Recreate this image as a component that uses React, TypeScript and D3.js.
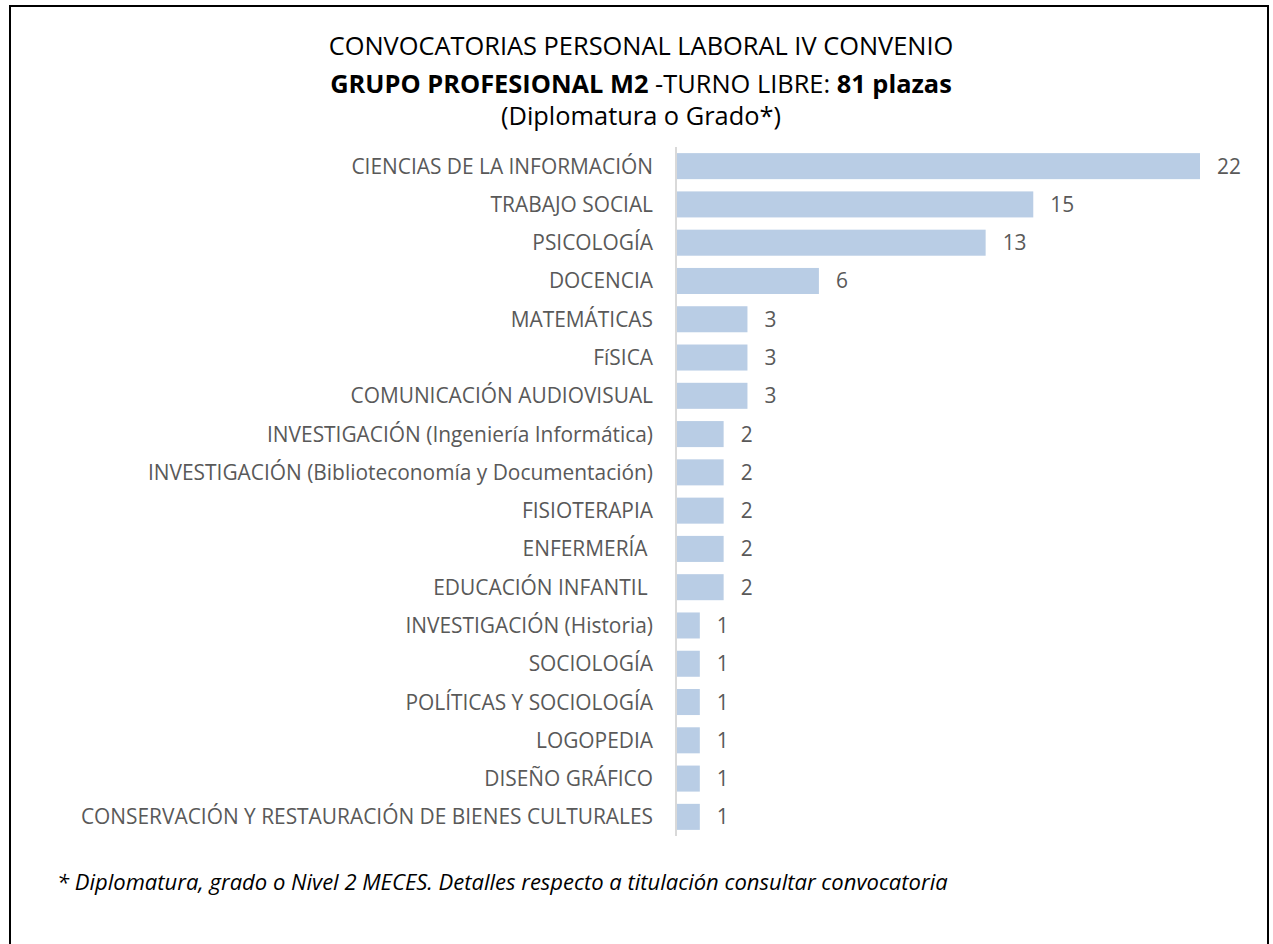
import React from "react";
import * as d3 from "d3";

const categories = [
  "CIENCIAS DE LA INFORMACIÓN",
  "TRABAJO SOCIAL",
  "PSICOLOGÍA",
  "DOCENCIA",
  "MATEMÁTICAS",
  "FíSICA",
  "COMUNICACIÓN AUDIOVISUAL",
  "INVESTIGACIÓN (Ingeniería Informática)",
  "INVESTIGACIÓN (Biblioteconomía y Documentación)",
  "FISIOTERAPIA",
  "ENFERMERÍA ",
  "EDUCACIÓN INFANTIL ",
  "INVESTIGACIÓN (Historia)",
  "SOCIOLOGÍA",
  "POLÍTICAS Y SOCIOLOGÍA",
  "LOGOPEDIA",
  "DISEÑO GRÁFICO",
  "CONSERVACIÓN Y RESTAURACIÓN DE BIENES CULTURALES",
];
const values = [22, 15, 13, 6, 3, 3, 3, 2, 2, 2, 2, 2, 1, 1, 1, 1, 1, 1];

const FONT = "'Open Sans', sans-serif";

export default function App() {
  const W = 1273;
  const H = 944;
  const x0 = 676;
  const x = d3.scaleLinear().domain([0, 22]).range([x0, 1200]);
  const y = d3
    .scaleBand<string>()
    .domain(categories)
    .range([147, 836])
    .paddingInner(0.32)
    .paddingOuter(0.16);
  const bw = y.bandwidth();

  return (
    <svg
      width={W}
      height={H}
      style={{ position: "absolute", left: 0, top: 0, background: "#fff" }}
    >
      <rect x={0} y={0} width={W} height={H} fill="#fff" />
      <rect
        x={10}
        y={6}
        width={1258}
        height={H + 20}
        fill="none"
        stroke="#000"
        strokeWidth={2}
      />
      <g fontFamily={FONT} textAnchor="middle" fill="#000" fontSize={25.4}>
        <text x={641} y={55}>
          CONVOCATORIAS PERSONAL LABORAL IV CONVENIO
        </text>
        <text x={641} y={93}>
          <tspan fontWeight="bold">GRUPO PROFESIONAL M2</tspan>
          <tspan> -TURNO LIBRE: </tspan>
          <tspan fontWeight="bold">81 plazas</tspan>
        </text>
        <text x={641} y={125}>
          (Diplomatura o Grado*)
        </text>
      </g>
      <g>
        {categories.map((c, i) => (
          <rect
            key={c}
            x={x(0)}
            y={y(c)!}
            width={x(values[i]) - x(0)}
            height={bw}
            fill="#B9CDE5"
          />
        ))}
      </g>
      <line
        x1={x0}
        x2={x0}
        y1={147}
        y2={836}
        stroke="#D9D9D9"
        strokeWidth={2}
      />
      <g fontFamily={FONT} fontSize={20.9} fill="#595959">
        {categories.map((c) => (
          <text
            key={c}
            x={653}
            y={y(c)! + bw / 2}
            dy="0.36em"
            textAnchor="end"
            style={{ whiteSpace: "pre" }}
          >
            {c}
          </text>
        ))}
        {categories.map((c, i) => (
          <text
            key={c + "v"}
            x={x(values[i]) + 17}
            y={y(c)! + bw / 2}
            dy="0.36em"
            textAnchor="start"
          >
            {values[i]}
          </text>
        ))}
      </g>
      <text
        x={57}
        y={890}
        fontFamily={FONT}
        fontSize={22}
        fontStyle="italic"
        fill="#000"
      >
        * Diplomatura, grado o Nivel 2 MECES. Detalles respecto a titulación consultar convocatoria
      </text>
    </svg>
  );
}
